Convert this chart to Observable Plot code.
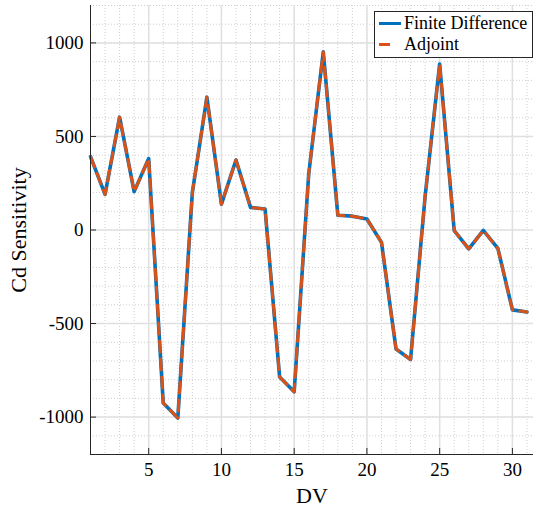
<!DOCTYPE html>
<html>
<head>
<meta charset="utf-8">
<script src="https://cdn.jsdelivr.net/npm/d3@7"></script>
<script src="https://cdn.jsdelivr.net/npm/@observablehq/plot@0.6"></script>
<style>
  html, body { margin: 0; padding: 0; background: #fff; }
  #wrap { position: relative; width: 534px; height: 508px; }
  #wrap svg text { font-family: "Liberation Serif", serif !important; }
  #legend {
    position: absolute; left: 374px; top: 11px; width: 157px; height: 45px;
    border: 1px solid #262626; background: #fff;
    font-family: "Liberation Serif", serif; font-size: 18px; color: #000;
  }
  .row { position: absolute; left: 0; height: 20px; line-height: 20px; white-space: nowrap; }
  .row span.txt { position: absolute; left: 29px; top: 0; }
  .sw { position: absolute; left: 4px; top: 9px; height: 3px; }
</style>
</head>
<body>
<div id="wrap"></div>
<script>
// Data
const dv = [1,2,3,4,5,6,7,8,9,10,11,12,13,14,15,16,17,18,19,20,21,22,23,24,25,26,27,28,29,30,31];
const finiteDifference = [392,190,603,205,382,-925,-1005,200,710,138,374,121,112,-786,-865,300,952,79,74,59,-66,-636,-692,180,887,-3,-101,-2,-98,-427,-438];
const adjoint          = [392,190,603,205,382,-925,-1005,200,710,138,374,121,112,-786,-865,300,952,79,74,59,-66,-636,-692,180,887,-3,-101,-2,-98,-427,-438];
const xTicks = [5,10,15,20,25,30];
const yTicks = [-1000,-500,0,500,1000];
const xMinor = d3.range(1, 32, 1);
const yMinor = d3.range(-1200, 1201, 100);
const seriesNames = ["Finite Difference", "Adjoint"];
const colors = ["#0072BD", "#D95319"];

const fdRows = dv.map((x, i) => ({x, y: finiteDifference[i]}));
const adRows = dv.map((x, i) => ({x, y: adjoint[i]}));

const font = "Liberation Serif, serif";

const chart = Plot.plot({
  width: 534,
  height: 508,
  marginLeft: 90,
  marginRight: 1,
  marginTop: 5,
  marginBottom: 54,
  style: {fontFamily: font, fontSize: "19px", color: "#000", background: "#fff", overflow: "visible"},
  x: {domain: [1, 31.45]},
  y: {domain: [-1200, 1200]},
  marks: [
    Plot.ruleX(xMinor, {stroke: "#cfcfcf", strokeDasharray: "1,2", strokeWidth: 1}),
    Plot.ruleY(yMinor, {stroke: "#cfcfcf", strokeDasharray: "1,2", strokeWidth: 1}),
    Plot.ruleX(xTicks, {stroke: "#e0e0e0", strokeWidth: 1.5}),
    Plot.ruleY(yTicks, {stroke: "#e0e0e0", strokeWidth: 1.5}),
    Plot.line(fdRows, {x: "x", y: "y", stroke: colors[0], strokeWidth: 3.6, strokeLinejoin: "round"}),
    Plot.line(adRows, {x: "x", y: "y", stroke: colors[1], strokeWidth: 3, strokeDasharray: "11,7", strokeLinejoin: "round"}),
    Plot.axisX({ticks: xTicks, tickSize: -6, tickPadding: 14, tickFormat: d => String(d), stroke: "#262626",
      label: "DV", labelAnchor: "center", labelArrow: "none", labelOffset: 48, fontSize: 19}),
    Plot.axisY({ticks: yTicks, tickSize: -6, tickPadding: 13, tickFormat: d => String(d), stroke: "#262626",
      label: "Cd Sensitivity", labelAnchor: "center", labelArrow: "none", labelOffset: 80, fontSize: 19}),
    Plot.ruleX([1], {stroke: "#262626", strokeWidth: 1}),
    Plot.ruleY([-1200], {stroke: "#262626", strokeWidth: 1})
  ]
});

// enlarge axis labels, strip any arrow
chart.querySelectorAll("g[aria-label='x-axis label'] text, g[aria-label='y-axis label'] text").forEach(t => {
  t.setAttribute("font-size", "22px");
  t.style.fontSize = "22px";
  t.textContent = t.textContent.replace(/\s*[←→↑↓]\s*/g, "");
});

const wrap = document.getElementById("wrap");
wrap.appendChild(chart);

const legend = document.createElement("div");
legend.id = "legend";
seriesNames.forEach((name, i) => {
  const row = document.createElement("div");
  row.className = "row";
  row.style.top = (i === 0 ? 1 : 22) + "px";
  const sw = document.createElement("div");
  sw.className = "sw";
  sw.style.background = colors[i];
  sw.style.width = i === 0 ? "22px" : "11px";
  const txt = document.createElement("span");
  txt.className = "txt";
  txt.textContent = name;
  row.appendChild(sw);
  row.appendChild(txt);
  legend.appendChild(row);
});
wrap.appendChild(legend);
</script>
</body>
</html>
